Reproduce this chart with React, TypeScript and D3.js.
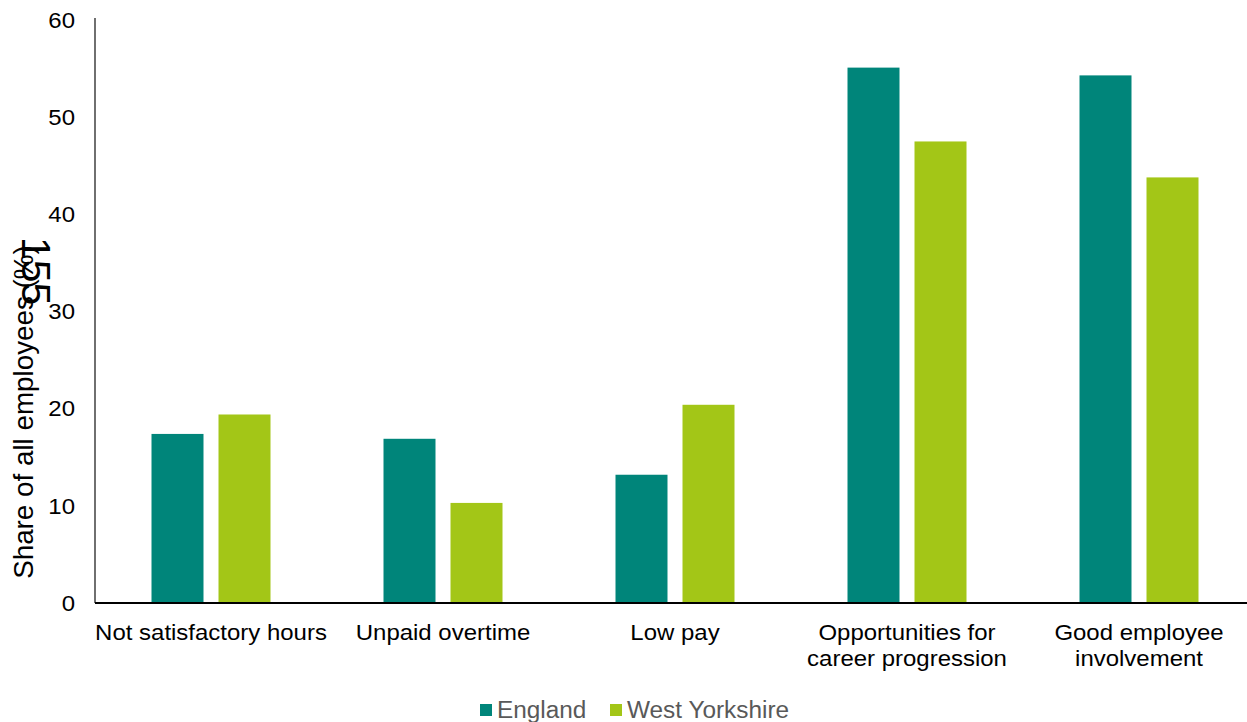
import React from "react";
import * as d3 from "d3";

const categories: string[][] = [
  ["Not satisfactory hours"],
  ["Unpaid overtime"],
  ["Low pay"],
  ["Opportunities for", "career progression"],
  ["Good employee", "involvement"],
];
const seriesNames = ["England", "West Yorkshire"];
const england = [17.4, 16.9, 13.2, 55.1, 54.3];
const westYorkshire = [19.4, 10.3, 20.4, 47.5, 43.8];
const yTicks = [0, 10, 20, 30, 40, 50, 60];
const colors = ["#00857A", "#A3C617"];

const W = 1247;
const H = 722;
const FONT = "Arial, 'Liberation Sans', sans-serif";
const SX = 1.09;

export default function App() {
  const keys = categories.map((c) => c.join(" "));
  const x0 = d3.scaleBand<string>().domain(keys).range([95, 1255]).paddingInner(0).paddingOuter(0);
  const x1 = d3
    .scaleBand<string>()
    .domain(seriesNames)
    .range([56.5, x0.bandwidth() - 56.5])
    .paddingInner(0.224)
    .paddingOuter(0);
  const y = d3.scaleLinear().domain([0, 60]).range([603, 20]);
  const series = [england, westYorkshire];

  return (
    <svg
      width={W}
      height={H}
      style={{ position: "absolute", left: 0, top: 0, background: "#fff" }}
      fontFamily={FONT}
    >
      <rect x={0} y={0} width={W} height={H} fill="#fff" />
      {/* bars */}
      {keys.map((k, i) => (
        <g key={k} transform={`translate(${x0(k)},0)`}>
          {seriesNames.map((s, j) => (
            <rect
              key={s}
              x={x1(s)}
              y={y(series[j][i])}
              width={x1.bandwidth()}
              height={y(0) - y(series[j][i])}
              fill={colors[j]}
            />
          ))}
        </g>
      ))}
      {/* y axis */}
      <line x1={95} x2={95} y1={y(0)} y2={y(60) - 2} stroke="#222" strokeWidth={1.3} />
      {yTicks.map((t) => (
        <text
          key={t}
          transform={`translate(75,${y(t)}) scale(${SX},1)`}
          dy="0.35em"
          textAnchor="end"
          fontSize={22}
          fill="#000"
        >
          {t}
        </text>
      ))}
      {/* x axis */}
      <line x1={95} x2={W} y1={y(0)} y2={y(0)} stroke="#000" strokeWidth={2} />
      {keys.map((k, i) => {
        const cx = (x0(k) as number) + x0.bandwidth() / 2;
        return (
          <text
            key={k}
            transform={`translate(${cx},640) scale(${SX},1)`}
            textAnchor="middle"
            fontSize={22}
            fill="#000"
          >
            {categories[i].map((line, li) => (
              <tspan key={li} x={0} dy={li === 0 ? 0 : 26}>
                {line}
              </tspan>
            ))}
          </text>
        );
      })}
      {/* y label */}
      <text
        transform={`translate(33,412) rotate(-90) scale(1.03,1)`}
        textAnchor="middle"
        fontSize={27}
        fill="#000"
      >
        Share of all employees (%)
      </text>
      {/* stray label */}
      <text transform="translate(22,237) rotate(90)" fontSize={41} fill="#000">
        155
      </text>
      {/* legend */}
      {seriesNames.map((s, j) => {
        const lx = j === 0 ? 480 : 610;
        return (
          <g key={s}>
            <rect x={lx} y={704} width={12} height={12} fill={colors[j]} />
            <text
              transform={`translate(${lx + 17},710) scale(1.06,1)`}
              dy="0.35em"
              fontSize={23}
              fill="#595959"
            >
              {s}
            </text>
          </g>
        );
      })}
    </svg>
  );
}
